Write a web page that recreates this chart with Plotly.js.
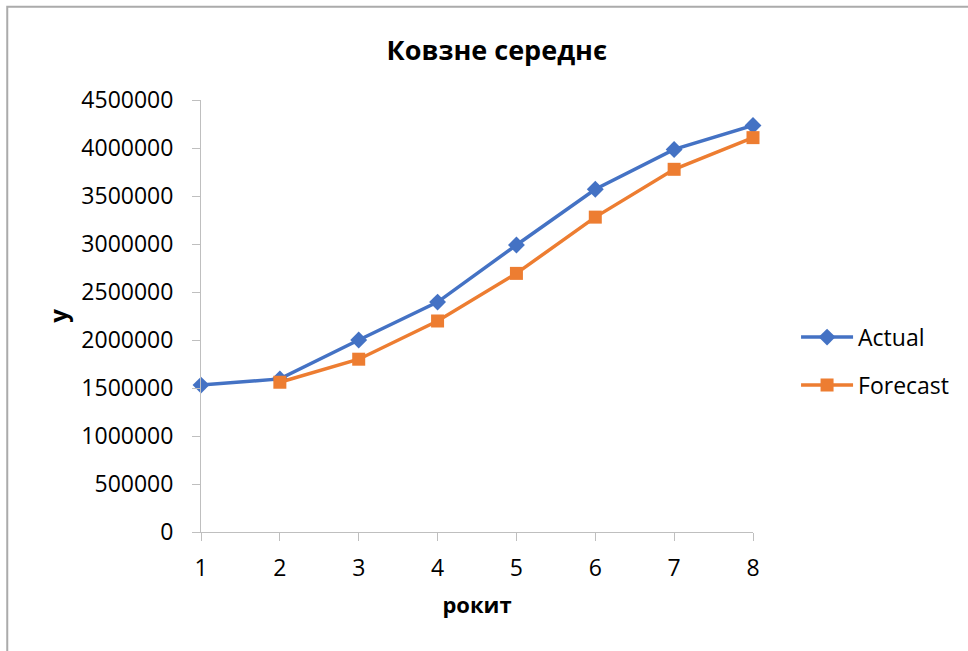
<!DOCTYPE html>
<html>
<head>
<meta charset="utf-8">
<script src="https://cdn.plot.ly/plotly-3.0.1.min.js"></script>
<style>html,body{margin:0;padding:0;background:#fff;}#chart{width:968px;height:651px;}</style>
</head>
<body>
<div id="chart"></div>
<script>
const years = [1, 2, 3, 4, 5, 6, 7, 8];
const actual = [1530000, 1595000, 2000000, 2395000, 2990000, 3570000, 3985000, 4235000];
const forecast = [null, 1560000, 1800000, 2198000, 2694000, 3280000, 3778000, 4108000];
const yTicks = [0, 500000, 1000000, 1500000, 2000000, 2500000, 3000000, 3500000, 4000000, 4500000];

const FONT = 'Open Sans, Lato, sans-serif';
const traces = [
  {x: years, y: actual, name: 'Actual', type: 'scatter', mode: 'lines+markers', cliponaxis: false,
   line: {color: '#4472C4', width: 3.5}, marker: {symbol: 'diamond', size: 13, color: '#4472C4'},
   legend: 'legend'},
  {x: years, y: forecast, name: 'Forecast', type: 'scatter', mode: 'lines+markers', cliponaxis: false,
   line: {color: '#ED7D31', width: 3.5}, marker: {symbol: 'square', size: 13, color: '#ED7D31'},
   legend: 'legend2'}
];
const legendCommon = {font: {family: FONT, size: 23, color: '#000'}, bgcolor: 'rgba(0,0,0,0)',
  itemwidth: 52, xanchor: 'left', yanchor: 'middle', xref: 'paper', yref: 'paper'};
const layout = {
  width: 968, height: 651,
  margin: {l: 201, r: 215, t: 100, b: 119},
  paper_bgcolor: '#fff', plot_bgcolor: '#fff',
  font: {family: FONT, color: '#000'},
  title: {text: '<b>Ковзне середнє</b>', font: {family: FONT, size: 27, color: '#000'},
          x: 0.536, xref: 'paper', xanchor: 'center', y: 0.923, yanchor: 'middle'},
  xaxis: {range: [1, 8], tickvals: years, ticktext: years.map(String), showgrid: false, zeroline: false,
          showline: true, linecolor: '#BFBFBF', linewidth: 1, ticks: 'outside', ticklen: 8,
          tickcolor: '#BFBFBF', tickfont: {family: FONT, size: 23, color: '#000'}, ticklabelstandoff: 7,
          title: {text: '<b>рокит</b>', font: {family: FONT, size: 22, color: '#000'}, standoff: 16}},
  yaxis: {range: [0, 4500000], tickvals: yTicks, ticktext: yTicks.map(String), showgrid: false, zeroline: false,
          showline: true, linecolor: '#BFBFBF', linewidth: 1, ticks: 'outside', ticklen: 8,
          tickcolor: '#BFBFBF', tickfont: {family: FONT, size: 23, color: '#000'}, ticklabelstandoff: 14,
          title: {text: '<b>y</b>', font: {family: FONT, size: 24, color: '#000'}, standoff: 6}},
  legend: Object.assign({x: 1.078, y: 0.451}, legendCommon),
  legend2: Object.assign({x: 1.078, y: 0.34}, legendCommon),
  showlegend: true,
  shapes: [{type: 'rect', xref: 'paper', yref: 'paper', x0: -0.351, x1: 1.5, y0: -0.5, y1: 1.216,
            line: {color: '#ABABAB', width: 2}, fillcolor: 'rgba(0,0,0,0)', layer: 'below'}]
};
Plotly.newPlot('chart', traces, layout, {displayModeBar: false, staticPlot: true});
</script>
</body>
</html>
